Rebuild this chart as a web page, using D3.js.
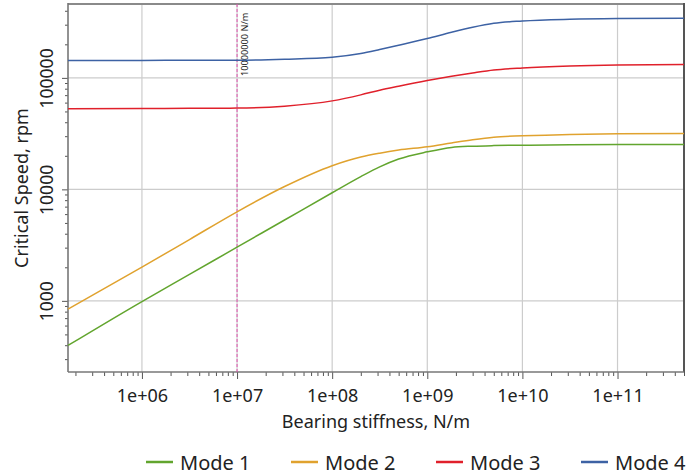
<!DOCTYPE html>
<html>
<head>
<meta charset="utf-8">
<style>
  body { margin: 0; background: #fff; }
  svg text { font-family: "Noto Sans", "Open Sans", sans-serif; fill: #222; }
</style>
</head>
<body>
<svg width="700" height="476"></svg>
<script src="https://d3js.org/d3.v7.min.js"></script>
<script>
// bearing stiffness, N/m (sample points)
const stiffness = [1.67e5, 1e6, 3.16e6, 1e7, 3.16e7, 1e8, 2e8, 3.16e8, 5e8, 1e9, 1.8e9, 3e9, 5e9, 1e10, 3.16e10, 1e11, 5e11];

// critical speeds, rpm
const mode1 = [398, 986, 1726, 3030, 5310, 9320, 13000, 15900, 18700, 21700, 23800, 24400, 24700, 24900, 25070, 25200, 25300];
const mode2 = [843, 2005, 3548, 6290, 10600, 16300, 19500, 21100, 22500, 24100, 26100, 27900, 29400, 30200, 31100, 31500, 31700];
const mode3 = [52800, 53000, 53300, 53550, 55800, 62200, 70400, 77600, 84300, 94800, 103600, 110800, 117700, 122900, 128100, 130700, 131800];
const mode4 = [143200, 143500, 143800, 144100, 147100, 153200, 165300, 179500, 196200, 225300, 256500, 284400, 308800, 323800, 335400, 340300, 342400];

const seriesNames = ["Mode 1", "Mode 2", "Mode 3", "Mode 4"];
const seriesColors = ["#62a52e", "#e0a22e", "#e0202b", "#3d62a4"];

const xTickValues = [1e6, 1e7, 1e8, 1e9, 1e10, 1e11];
const xTickLabels = ["1e+06", "1e+07", "1e+08", "1e+09", "1e+10", "1e+11"];
const yTickValues = [1000, 10000, 100000];
const yTickLabels = ["1000", "10000", "100000"];

const markerValue = 1e7;
const markerLabel = "10000000 N/m";

const svg = d3.select("svg");
const pl = 68, pr = 684, pt = 4, pb = 372;

const x = d3.scaleLog().domain([1.67e5, 5e11]).range([pl, pr]);
const y = d3.scaleLog().domain([230, 4.6e5]).range([pb, pt]);

// grid
svg.append("g").selectAll("line").data(xTickValues).join("line")
  .attr("x1", d => x(d)).attr("x2", d => x(d))
  .attr("y1", pt).attr("y2", pb)
  .attr("stroke", "#cccccc").attr("stroke-width", 1.2);
svg.append("g").selectAll("line").data(yTickValues).join("line")
  .attr("x1", pl).attr("x2", pr)
  .attr("y1", d => y(d)).attr("y2", d => y(d))
  .attr("stroke", "#cccccc").attr("stroke-width", 1.2);

// minor ticks
const xMinor = x.ticks().filter(d => !xTickValues.includes(d));
const yMinor = y.ticks().filter(d => !yTickValues.includes(d));

const xAxisMinor = svg.append("g").attr("transform", `translate(0,${pb})`)
  .call(d3.axisBottom(x).tickValues(xMinor).tickSize(4).tickFormat(""));
const xAxis = svg.append("g").attr("transform", `translate(0,${pb})`)
  .call(d3.axisBottom(x).tickValues(xTickValues).tickSize(7).tickPadding(10)
    .tickFormat((d, i) => xTickLabels[i]));
xAxis.selectAll("text").attr("font-size", 18).attr("fill", "#222")
  .attr("font-family", "Noto Sans, sans-serif");

const yAxisMinor = svg.append("g").attr("transform", `translate(${pl},0)`)
  .call(d3.axisLeft(y).tickValues(yMinor).tickSize(3).tickFormat(""));
const yAxis = svg.append("g").attr("transform", `translate(${pl},0)`)
  .call(d3.axisLeft(y).tickValues(yTickValues).tickSize(6).tickFormat(""));
yAxis.selectAll(".tick").append("text")
  .attr("transform", "translate(-15,0) rotate(-90)")
  .attr("text-anchor", "middle")
  .attr("font-size", 17.5)
  .attr("fill", "#222")
  .text((d, i) => yTickLabels[i]);

[xAxisMinor, xAxis, yAxisMinor, yAxis].forEach(g => {
  g.select(".domain").remove();
  g.selectAll(".tick line").attr("stroke", "#555");
});

// frame
svg.append("line").attr("x1", pl).attr("x2", pr).attr("y1", pt).attr("y2", pt)
  .attr("stroke", "#8a8a8a").attr("stroke-width", 2);
svg.append("line").attr("x1", pr).attr("x2", pr).attr("y1", pt - 1).attr("y2", pb)
  .attr("stroke", "#555").attr("stroke-width", 2);
svg.append("line").attr("x1", pl).attr("x2", pl).attr("y1", pt - 1).attr("y2", pb)
  .attr("stroke", "#777").attr("stroke-width", 1.6);
svg.append("line").attr("x1", pl).attr("x2", pr).attr("y1", pb).attr("y2", pb)
  .attr("stroke", "#777").attr("stroke-width", 1.6);

// marker line
svg.append("line")
  .attr("x1", x(markerValue)).attr("x2", x(markerValue))
  .attr("y1", pt).attr("y2", pb)
  .attr("stroke", "#e050b0").attr("stroke-width", 1)
  .attr("stroke-dasharray", "3,2");
svg.append("text")
  .attr("transform", `translate(${x(markerValue) + 11},76) rotate(-90)`)
  .attr("font-size", 9.2)
  .text(markerLabel);

// series
const allSeries = [mode1, mode2, mode3, mode4];
const line = d3.line()
  .x((d, i) => x(stiffness[i]))
  .y(d => y(d))
  .curve(d3.curveMonotoneX);

svg.append("g").selectAll("path").data(allSeries).join("path")
  .attr("d", line)
  .attr("fill", "none")
  .attr("stroke", (d, i) => seriesColors[i])
  .attr("stroke-width", 1.5);

// axis titles
svg.append("text")
  .attr("x", (pl + pr) / 2).attr("y", 428)
  .attr("text-anchor", "middle").attr("font-size", 18)
  .text("Bearing stiffness, N/m");
svg.append("text")
  .attr("transform", `translate(28,${(pt + pb) / 2}) rotate(-90)`)
  .attr("text-anchor", "middle").attr("font-size", 18)
  .text("Critical Speed, rpm");

// legend
const legend = svg.append("g").selectAll("g").data(seriesNames).join("g")
  .attr("transform", (d, i) => `translate(${146 + i * 145},462)`);
legend.append("line")
  .attr("x1", 0).attr("x2", 27)
  .attr("stroke", (d, i) => seriesColors[i]).attr("stroke-width", 2.5);
legend.append("text")
  .attr("x", 34).attr("y", 8)
  .attr("font-size", 20)
  .text(d => d);
</script>
</body>
</html>
